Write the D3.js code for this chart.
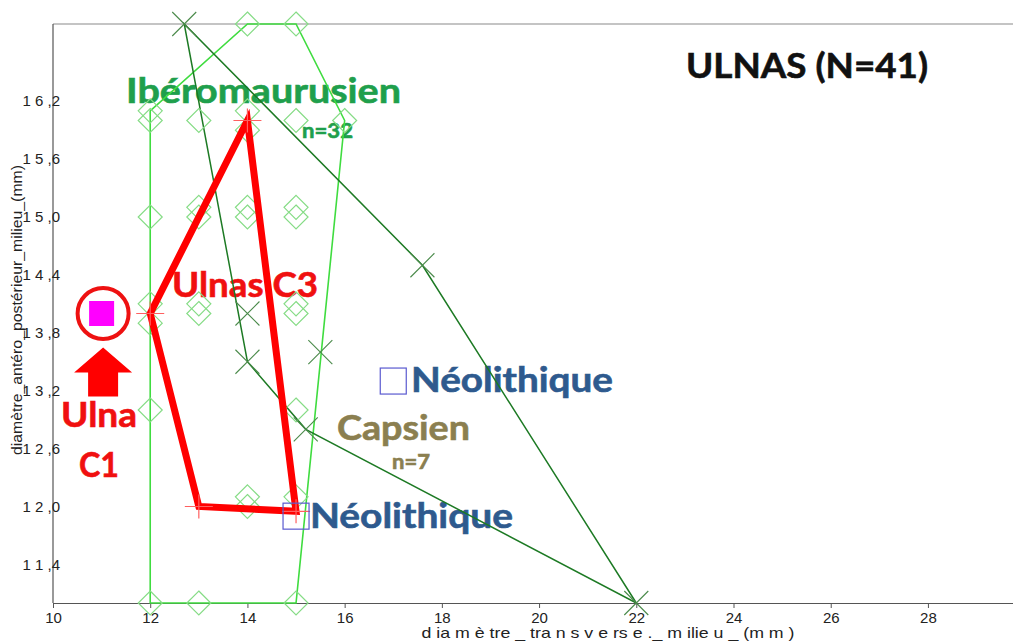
<!DOCTYPE html>
<html>
<head>
<meta charset="utf-8">
<script src="https://cdn.jsdelivr.net/npm/d3@7.9.0/dist/d3.min.js"></script>
<style>
  body { margin: 0; background: #fff; }
  svg { display: block; }
  .tick-label { font-family: "Liberation Sans", Arial, sans-serif; font-size: 15px; fill: #222; }
  .ann { font-family: Lato, "Open Sans", sans-serif; font-weight: 700; }
</style>
</head>
<body>
<svg id="chart" width="1013" height="642"></svg>
<script>
// data (diamètre transverse, diamètre antéro-postérieur), mm
const iberoPts = [
  [12, 16.1], [12, 16.0], [12, 15.0], [12, 14.1], [12, 13.9], [12, 13.0], [12, 11.0],
  [13, 16.0], [13, 15.1], [13, 15.0], [13, 14.1], [13, 14.0], [13, 11.0],
  [14, 17.0], [14, 16.1], [14, 15.9], [14, 15.1], [14, 15.0], [14, 12.1], [14, 12.0],
  [15, 17.0], [15, 16.0], [15, 15.1], [15, 15.0], [15, 14.1], [15, 14.0], [15, 13.0], [15, 12.1], [15, 11.0],
  [16, 16.0]
];
const capsienPts = [[12.7, 17.0], [14, 14.0], [14, 13.5], [15.5, 13.6], [15.2, 12.8], [17.6, 14.5], [22, 11.0]];
const ulnasC3 = [[14, 16.0], [12, 14.0], [13, 12.0], [15, 11.95]];
const ulnaC1 = [11, 14.0];
const neoPts = [[17, 13.3], [15, 11.9]];

const xTicks = [10, 12, 14, 16, 18, 20, 22, 24, 26, 28];
const yTicks = [11.4, 12.0, 12.6, 13.2, 13.8, 14.4, 15.0, 15.6, 16.2];
const yTickLabels = ["1 1 ,4", "1 2 ,0", "1 2 ,6", "1 3 ,2", "1 3 ,8", "1 4 ,4", "1 5 ,0", "1 5 ,6", "1 6 ,2"];

const svg = d3.select("#chart");
const x = d3.scaleLinear().domain([10, 29.75]).range([53, 1013]);
const y = d3.scaleLinear().domain([11, 17]).range([603, 24]);
const px = d => [x(d[0]), y(d[1])];

// frame
svg.append("line").attr("x1", 53).attr("x2", 1013).attr("y1", y(17)).attr("y2", y(17))
  .attr("stroke", "#8a8a8a").attr("stroke-width", 1.2);
svg.append("line").attr("x1", 53).attr("x2", 53).attr("y1", y(17)).attr("y2", y(11))
  .attr("stroke", "#555").attr("stroke-width", 1.2);

// x axis
const xAxis = svg.append("g").attr("transform", `translate(0,${y(11)})`)
  .call(d3.axisBottom(x).tickValues(xTicks).tickSize(5).tickPadding(4).tickSizeOuter(0));
xAxis.select(".domain").attr("stroke", "#555").attr("stroke-width", 1.2);
xAxis.selectAll(".tick line").attr("stroke", "#555");
xAxis.selectAll(".tick text").attr("class", "tick-label").attr("font-size", null).attr("font-family", null);

// y tick labels
svg.append("g").selectAll("text").data(yTicks).join("text")
  .attr("class", "tick-label")
  .attr("x", 60).attr("y", d => y(d)).attr("dy", "0.35em")
  .attr("text-anchor", "end")
  .text((d, i) => yTickLabels[i]);

// axis titles
svg.append("text").attr("class", "tick-label")
  .attr("x", 608).attr("y", 638).attr("text-anchor", "middle")
  .attr("textLength", 373).attr("lengthAdjust", "spacingAndGlyphs")
  .text("d ia m è tre _ tra n s v e rs e ._ m ilie u _ (m m )");
svg.append("text").attr("class", "tick-label")
  .attr("transform", "translate(22,310) rotate(-90)")
  .attr("text-anchor", "middle").style("font-size", "14px")
  .attr("textLength", 290).attr("lengthAdjust", "spacingAndGlyphs")
  .text("diamètre_antéro_postérieur_milieu_(mm)");

// annotation texts (under the marks)
const ann = (txt, cx, base, size, color, w) => svg.append("text").attr("class", "ann")
  .attr("x", cx).attr("y", base).attr("text-anchor", "start")
  .style("font-size", size + "px").attr("fill", color)
  .attr("stroke", color).attr("stroke-width", 0.6)
  .attr("textLength", w).attr("lengthAdjust", "spacingAndGlyphs").text(txt);
ann("Ibéromaurusien", 126, 103, 35, "#1f9f4c", 275);
ann("n=32", 302, 138, 20, "#1f9f4c", 51);
ann("ULNAS (N=41)", 686, 78, 35, "#111", 242);
ann("Ulnas C3", 172, 297, 35, "#f01010", 146);
ann("Néolithique", 411, 392, 34, "#2e5a8e", 202);
ann("Capsien", 337, 440, 34, "#8b7f50", 133);
ann("n=7", 392, 469, 20, "#8b7f50", 38);
ann("Néolithique", 310, 528, 34, "#2e5a8e", 203);
ann("Ulna", 61, 427, 35, "#f01010", 76);
ann("C1", 79, 477, 35, "#f01010", 40);

// hulls
const line = d3.line().curve(d3.curveLinearClosed);
const iberoHull = d3.polygonHull(iberoPts.map(px));
svg.append("path").attr("d", line(iberoHull)).attr("fill", "none")
  .attr("stroke", "#3fdc3f").attr("stroke-width", 1.6);
const capHull = d3.polygonHull(capsienPts.map(px));
svg.append("path").attr("d", line(capHull)).attr("fill", "none")
  .attr("stroke", "#1d7a24").attr("stroke-width", 1.5);

// diamonds
svg.append("g").selectAll("path").data(iberoPts).join("path")
  .attr("transform", d => `translate(${x(d[0])},${y(d[1])})`)
  .attr("d", "M0,-12L12,0L0,12L-12,0Z")
  .attr("fill", "none").attr("stroke", "#86dc86").attr("stroke-width", 1.2);

// X markers (Capsien)
svg.append("g").selectAll("path").data(capsienPts).join("path")
  .attr("transform", d => `translate(${x(d[0])},${y(d[1])})`)
  .attr("d", "M-12,-12L12,12M-12,12L12,-12")
  .attr("stroke", "#4a8a4a").attr("stroke-width", 1.1);

// Ulnas C3 polygon
svg.append("path").attr("d", line(ulnasC3.map(px))).attr("fill", "none")
  .attr("stroke", "#ff0000").attr("stroke-width", 7).attr("stroke-linejoin", "miter");
svg.append("g").selectAll("path").data(ulnasC3).join("path")
  .attr("transform", d => `translate(${x(d[0])},${y(d[1])})`)
  .attr("d", "M-14,0L14,0M0,-12L0,12")
  .attr("stroke", "#ff6060").attr("stroke-width", 1.2);

// Néolithique squares
svg.append("g").selectAll("rect").data(neoPts).join("rect")
  .attr("x", d => x(d[0]) - 13).attr("y", d => y(d[1]) - 13)
  .attr("width", 26).attr("height", 26)
  .attr("fill", "none").attr("stroke", "#5a5ad0").attr("stroke-width", 1.2);

// Ulna C1
const c1 = px(ulnaC1);
svg.append("rect").attr("x", c1[0] - 12.5).attr("y", c1[1] - 12.5)
  .attr("width", 25).attr("height", 25).attr("fill", "#ff00ff");
svg.append("circle").attr("cx", c1[0] + 1.5).attr("cy", c1[1]).attr("r", 25.5)
  .attr("fill", "none").attr("stroke", "#ee1111").attr("stroke-width", 4);
const ax = c1[0] + 1.5, at = c1[1] + 34;
svg.append("path")
  .attr("d", `M${ax},${at}L${ax + 29},${at + 25}L${ax + 15},${at + 25}L${ax + 15},${at + 49}L${ax - 15},${at + 49}L${ax - 15},${at + 25}L${ax - 29},${at + 25}Z`)
  .attr("fill", "#ff0000");
</script>
</body>
</html>
